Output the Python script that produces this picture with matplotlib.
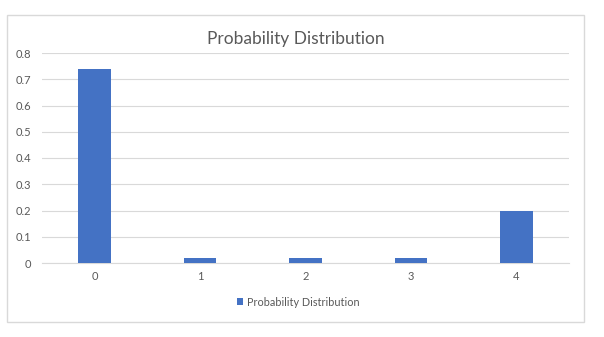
import matplotlib.pyplot as plt
from matplotlib.patches import Rectangle

plt.rcParams['font.family'] = ['Lato', 'DejaVu Sans']

categories = ["0", "1", "2", "3", "4"]
probs = [0.74, 0.02, 0.02, 0.02, 0.2]
yticks = [0, 0.1, 0.2, 0.3, 0.4, 0.5, 0.6, 0.7, 0.8]
ytick_labels = ["0", "0.1", "0.2", "0.3", "0.4", "0.5", "0.6", "0.7", "0.8"]

W, H = 604, 337
fig = plt.figure(figsize=(W / 100, H / 100), dpi=100)

# chart frame
fig.patches.append(Rectangle((7 / W, 1 - 322 / H), 577 / W, 307 / H,
                             transform=fig.transFigure, fill=False,
                             edgecolor="#d9d9d9", linewidth=1))

ax = fig.add_axes([42 / W, 1 - 263 / H, 527 / W, 210 / H])
ax.bar(range(len(categories)), probs, width=0.31, color="#4472c4",
       label="Probability Distribution", zorder=3)
ax.set_xlim(-0.5, 4.5)
ax.set_ylim(0, 0.8)
ax.set_yticks(yticks)
ax.set_yticklabels(ytick_labels)
ax.set_xticks(range(len(categories)))
ax.set_xticklabels(categories)
ax.grid(axis="y", color="#d9d9d9", linewidth=0.8, zorder=0)
for s in ["top", "right", "left"]:
    ax.spines[s].set_visible(False)
ax.spines["bottom"].set_color("#d9d9d9")
ax.tick_params(length=0, labelsize=8, labelcolor="#595959")
ax.tick_params(axis="y", pad=8)
ax.tick_params(axis="x", pad=6)

fig.text(0.49, 1 - 39 / H, "Probability Distribution", ha="center", va="center",
         fontsize=12.5, color="#595959")

leg = ax.legend(loc="center", frameon=False, fontsize=7.8,
                handlelength=0.6, handleheight=0.6, handletextpad=0.3)
leg.set_bbox_to_anchor((298 / W, 1 - 302 / H), transform=fig.transFigure)
for t in leg.get_texts():
    t.set_color("#595959")

fig.savefig("out.png", dpi=100)
